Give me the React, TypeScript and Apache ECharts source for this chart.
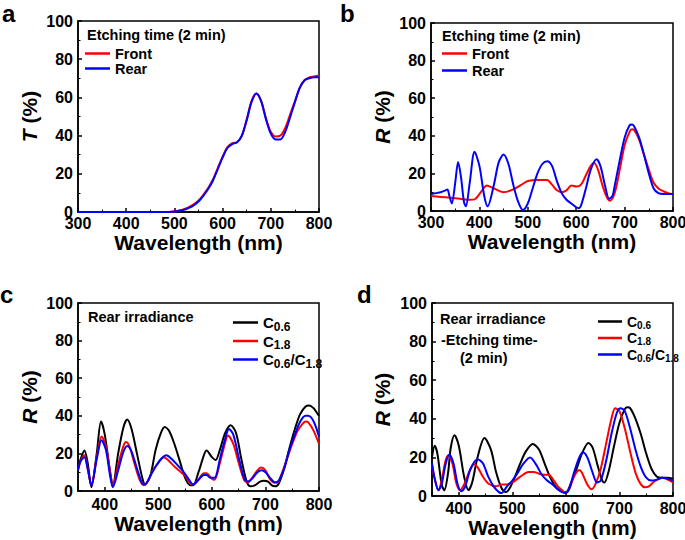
import React, { useEffect, useRef } from 'react';
import * as echarts from 'echarts';

const FONT = '"Liberation Sans", Arial, sans-serif';

// ---- Panel a: transmittance ----
const aWl = [300, 400, 490, 500, 510, 520, 530, 540, 550, 560, 570, 580, 590, 600, 610, 620, 630, 640, 650, 660, 670, 680, 690, 700, 710, 720, 730, 740, 750, 760, 770, 780, 790, 800];
const aFront = [0, 0, 0, 0.3, 0.8, 1.5, 2.5, 4, 6, 9, 12.5, 17, 23, 29, 34, 36, 36.5, 40, 48.5, 58, 62, 58, 49, 42, 39.5, 40, 44, 51, 58, 65, 69, 70.5, 71, 71.5];
const aRear = [0, 0, 0, 0.2, 0.6, 1.2, 2.2, 3.5, 5.5, 8.5, 12, 16.5, 22.5, 28.5, 33.5, 35.5, 36.5, 40, 48, 57.5, 62, 58, 48.5, 41, 38, 38, 42, 49.5, 57.5, 65, 69, 70, 70.5, 70.5];

// ---- Panel b: reflectance ----
const bFrontWl = [300, 320, 340, 360, 380, 390, 400, 410, 415, 430, 450, 470, 490, 500, 520, 540, 550, 560, 570, 580, 590, 600, 610, 620, 630, 637, 645, 655, 665, 670, 680, 690, 700, 710, 715, 720, 730, 740, 750, 760, 770, 780, 790, 800];
const bFront = [8, 7.5, 7, 6.5, 6, 6.2, 9, 12.5, 13.5, 12, 10, 11.5, 14.5, 16, 16.5, 16.5, 14, 11, 10, 11, 13.5, 13, 14, 19, 24, 25.5, 22, 13, 6.5, 5.5, 10, 22, 35, 42, 43.5, 43, 38, 30, 22, 15, 12, 10.5, 9.5, 9];
const bRearWl = [300, 310, 320, 330, 334, 338, 343, 350, 356, 362, 368, 372, 380, 390, 400, 410, 417, 430, 440, 450, 460, 470, 480, 490, 500, 510, 520, 530, 540, 550, 560, 570, 580, 590, 600, 605, 610, 620, 630, 642, 650, 660, 668, 675, 680, 690, 700, 710, 715, 720, 730, 740, 750, 760, 770, 780, 790, 800];
const bRear = [9, 9.5, 10, 11, 11.5, 8, 4, 15, 26, 18, 5, 2.5, 15, 31.5, 24, 8, 2.5, 14, 26, 30, 25, 14, 5, 0.5, 4, 12, 20, 25, 26.5, 24, 16, 9.5, 6, 4, 2, 1.5, 3, 12, 22, 27.5, 24, 13, 6.5, 8, 14, 27, 39, 45.5, 46, 45, 39, 30, 20, 12, 9.5, 9, 9, 9];

// ---- Panel c: rear irradiance ----
const cBlackWl = [350, 355, 362, 368, 375, 385, 393, 400, 410, 415, 425, 435, 442, 450, 460, 470, 475, 485, 495, 505, 512, 520, 530, 540, 550, 560, 565, 575, 585, 590, 600, 607, 615, 625, 635, 645, 655, 665, 672, 680, 690, 697, 705, 712, 718, 725, 735, 745, 755, 765, 775, 782, 790, 795, 800];
const cBlack = [12, 17, 21.5, 15, 2, 20, 37, 30, 10, 3, 20, 34, 38, 33, 20, 7, 3.5, 8, 22, 31, 34, 32, 25, 16, 7, 3, 3, 10, 19, 21.5, 18, 16.5, 22, 31, 35, 31, 17, 5, 2.5, 3, 5, 5.5, 5, 3, 2.5, 4, 12, 23, 33, 41, 45, 45.5, 44, 42, 40];
const cRedWl = [350, 355, 362, 368, 375, 385, 394, 402, 410, 415, 425, 435, 440, 447, 455, 465, 473, 480, 490, 500, 510, 520, 530, 540, 550, 560, 565, 575, 585, 590, 600, 605, 615, 625, 630, 640, 650, 660, 667, 675, 685, 692, 700, 708, 716, 722, 730, 740, 750, 760, 770, 775, 780, 790, 800];
const cRed = [11, 16, 19, 12, 3, 18, 29, 24, 10, 2.5, 14, 24, 26, 23, 15, 6, 3, 5, 11, 15, 18, 16, 13, 10.5, 8, 4, 3.5, 6, 9.5, 9.5, 6.5, 6, 15, 26, 29.5, 25, 15, 6, 4.5, 7, 11, 12.5, 11, 6.5, 4.5, 4.5, 9, 17, 25, 32, 36, 37, 36.5, 32, 25];
const cBlueWl = [350, 355, 362, 368, 375, 385, 394, 402, 410, 415, 425, 435, 442, 450, 460, 470, 475, 485, 495, 505, 515, 525, 535, 545, 555, 565, 575, 585, 590, 597, 605, 615, 625, 632, 640, 650, 660, 667, 675, 685, 693, 700, 710, 718, 725, 735, 745, 755, 765, 775, 780, 790, 800];
const cBlue = [11, 16, 18, 12, 3, 17, 27, 22, 8, 2, 11, 21, 24, 21, 12, 4, 3.5, 8, 13, 17, 19, 17, 14, 11, 7, 3.5, 6, 8.5, 8.5, 7, 7, 17, 28, 33, 30, 18, 7, 5, 6.5, 10, 11, 10, 6.5, 4.5, 5.5, 12, 22, 30, 37, 40, 40, 37, 29];

// ---- Panel d: rear irradiance, 2 min etching ----
const dBlackWl = [350, 355, 360, 368, 373, 380, 385, 392, 400, 410, 418, 425, 435, 448, 460, 470, 480, 488, 495, 505, 515, 525, 538, 550, 560, 570, 580, 590, 600, 610, 620, 630, 642, 650, 660, 668, 672, 680, 690, 700, 710, 715, 720, 730, 740, 750, 760, 770, 780, 790, 800];
const dBlack = [20, 26, 22, 6, 3, 12, 25, 31.5, 26, 10, 3, 7, 20, 30, 24, 12, 4, 2, 4, 10, 17, 23, 27, 24, 17, 10, 5, 2.5, 2, 7, 14, 22, 27.5, 25, 15, 8, 7, 13, 26, 38, 45, 46, 45.5, 40, 32, 22, 14, 10, 9.5, 9.5, 9];
const dRedWl = [350, 355, 362, 368, 375, 380, 388, 395, 402, 410, 420, 428, 435, 445, 455, 470, 480, 490, 500, 510, 520, 530, 540, 550, 560, 568, 575, 585, 595, 600, 607, 615, 625, 630, 640, 648, 655, 665, 675, 685, 692, 700, 710, 720, 730, 740, 748, 755, 765, 780, 790, 800];
const dRed = [16, 9, 3, 8, 18, 21, 17, 7, 3, 6, 13, 16.5, 15, 10, 6.5, 5, 6, 6, 7, 9, 11, 12.5, 12.5, 11.5, 11, 11, 9, 5, 2.5, 1.5, 4, 10, 13.5, 12, 6, 3.5, 6, 14, 27, 40, 45.5, 44, 35, 23, 12, 6, 4.5, 5, 7.5, 9.5, 8.5, 7];
const dBlueWl = [350, 355, 362, 368, 375, 382, 390, 398, 405, 412, 422, 435, 445, 455, 465, 475, 480, 490, 500, 510, 520, 533, 545, 555, 565, 575, 585, 598, 605, 615, 625, 632, 640, 650, 658, 665, 675, 685, 695, 702, 710, 720, 730, 740, 750, 760, 770, 780, 790, 800];
const dBlue = [17, 9, 3, 6, 16, 21.5, 17, 6, 2.5, 5, 14, 19, 17, 10, 5, 2, 1.5, 5, 8, 12, 16.5, 20, 16, 11, 8, 6, 3.5, 1.5, 3, 12, 20, 22.5, 20, 12, 7, 8, 18, 32, 43, 45.5, 44, 35, 24, 15, 9.5, 8, 8.5, 9.5, 9, 8];

const zip = (xs: number[], ys: number[]) => xs.map((x, i) => [x, ys[i]]);

const subName: Record<string, string> = {
  'C0.6': '{m|C}{s|0.6}',
  'C1.8': '{m|C}{s|1.8}',
  'C0.6/C1.8': '{m|C}{s|0.6}{m|/C}{s|1.8}',
};

const grids = [
  { left: 78, top: 21, width: 241, height: 191 },
  { left: 431, top: 23, width: 242, height: 188 },
  { left: 78, top: 303, width: 241, height: 188 },
  { left: 432, top: 303, width: 241, height: 193 },
];

function makeX(idx: number, min: number, labelMargin: number, nameGap: number) {
  const base: any = {
    type: 'value',
    gridIndex: idx,
    min,
    max: 800,
    name: 'Wavelength (nm)',
    nameLocation: 'middle',
    nameGap,
    nameTextStyle: { fontFamily: FONT, fontWeight: 'bold', fontSize: 21, color: '#000' },
    axisLine: { show: true, onZero: false, lineStyle: { color: '#000', width: 1.5 } },
    axisTick: { show: true, inside: true, length: 4, lineStyle: { color: '#000', width: 1.5 } },
    minorTick: { show: true, splitNumber: 2, length: 2.5, lineStyle: { color: '#000', width: 1 } },
    axisLabel: { fontFamily: FONT, fontWeight: 'bold', fontSize: 16, color: '#000', margin: labelMargin, showMinLabel: min === 300 },
    splitLine: { show: false },
    minorSplitLine: { show: false },
  };
  if (min === 300) base.interval = 100;
  else base.splitNumber = 5;
  return base;
}

function makeY(idx: number, letter: string, nameGap: number) {
  return {
    type: 'value',
    gridIndex: idx,
    min: 0,
    max: 100,
    interval: 20,
    name: `{i|${letter}} (%)`,
    nameLocation: 'middle',
    nameGap,
    nameTextStyle: {
      fontFamily: FONT, fontWeight: 'bold', fontSize: 21, color: '#000',
      rich: { i: { fontFamily: FONT, fontWeight: 'bold', fontStyle: 'italic', fontSize: 21, color: '#000' } },
    },
    axisLine: { show: true, onZero: false, lineStyle: { color: '#000', width: 1.5 } },
    axisTick: { show: true, inside: true, length: 4, lineStyle: { color: '#000', width: 1.5 } },
    minorTick: { show: true, splitNumber: 2, length: 2.5, lineStyle: { color: '#000', width: 1 } },
    axisLabel: { fontFamily: FONT, fontWeight: 'bold', fontSize: 16, color: '#000', margin: 5 },
    splitLine: { show: false },
    minorSplitLine: { show: false },
  };
}

function line(name: string, idx: number, data: number[][], color: string) {
  return {
    type: 'line',
    name,
    xAxisIndex: idx,
    yAxisIndex: idx,
    data,
    symbol: 'none',
    smooth: 0.3,
    lineStyle: { color, width: 2 },
    itemStyle: { color },
    color,
  };
}

function txt(text: string, x: number, y: number, size: number) {
  return {
    type: 'text',
    x,
    y,
    style: { text, fontFamily: FONT, fontWeight: 'bold', fontSize: size, fill: '#000', verticalAlign: 'middle', align: 'left' },
  };
}

export default function App() {
  const ref = useRef<HTMLDivElement>(null);
  useEffect(() => {
    if (!ref.current) return;
    const chart = echarts.init(ref.current, undefined, { renderer: 'svg' });
    const legendText = (m: number, s: number, lh: number, slh: number) => ({
      fontFamily: FONT, fontWeight: 'bold', fontSize: m, color: '#000',
      rich: {
        m: { fontFamily: FONT, fontWeight: 'bold', fontSize: m, lineHeight: lh, color: '#000' },
        s: { fontFamily: FONT, fontWeight: 'bold', fontSize: s, lineHeight: slh, verticalAlign: 'bottom', color: '#000' },
      },
    });
    const simpleText = { fontFamily: FONT, fontWeight: 'bold', fontSize: 14.5, lineHeight: 15, color: '#000' };
    chart.setOption({
      animation: false,
      backgroundColor: '#fff',
      grid: grids.map((g) => ({ ...g, show: true, borderColor: '#000', borderWidth: 1.5, backgroundColor: 'transparent', outerBoundsMode: 'none' })),
      xAxis: [makeX(0, 300, 3, 20), makeX(1, 300, 3, 20), makeX(2, 350, 5, 15), makeX(3, 350, 4, 14)],
      yAxis: [makeY(0, 'T', 38), makeY(1, 'R', 38), makeY(2, 'R', 38), makeY(3, 'R', 39)],
      legend: [
        { orient: 'vertical', left: 83, top: 44, padding: 2, icon: 'rect', itemWidth: 25, itemHeight: 2.5, itemGap: 0, selectedMode: false, data: ['Front', 'Rear'], textStyle: simpleText },
        { orient: 'vertical', left: 440, top: 44, padding: 2, icon: 'rect', itemWidth: 25, itemHeight: 2.5, itemGap: 2, selectedMode: false, data: ['Front', 'Rear'], textStyle: simpleText },
        { orient: 'vertical', left: 228, top: 310, icon: 'rect', itemWidth: 25, itemHeight: 2.5, itemGap: 1, selectedMode: false, data: ['C0.6', 'C1.8', 'C0.6/C1.8'], formatter: (n: string) => subName[n], textStyle: legendText(15, 12, 20, 10) },
        { orient: 'vertical', left: 593, top: 309.5, icon: 'rect', itemWidth: 24, itemHeight: 2.5, itemGap: 1, selectedMode: false, data: ['C0.6', 'C1.8', 'C0.6/C1.8'], formatter: (n: string) => subName[n], textStyle: legendText(14, 10, 17, 8) },
      ],
      graphic: [
        txt('a', 2, 13.6, 24),
        txt('b', 340, 13.6, 24),
        txt('c', 0, 294.6, 24),
        txt('d', 357, 294.6, 24),
        txt('Etching time (2 min)', 87, 35, 14.5),
        txt('Etching time (2 min)', 442, 36, 14.5),
        txt('Rear irradiance', 88, 316.6, 14.5),
        txt('Rear irradiance', 440, 319, 14.5),
        txt('-Etching time-', 441, 340, 14.5),
        txt('(2 min)', 460, 357.6, 14.5),
      ],
      series: [
        line('Front', 0, zip(aWl, aFront), '#ff0000'),
        line('Rear', 0, zip(aWl, aRear), '#0000ff'),
        line('Front', 1, zip(bFrontWl, bFront), '#ff0000'),
        line('Rear', 1, zip(bRearWl, bRear), '#0000ff'),
        line('C0.6', 2, zip(cBlackWl, cBlack), '#000000'),
        line('C1.8', 2, zip(cRedWl, cRed), '#ff0000'),
        line('C0.6/C1.8', 2, zip(cBlueWl, cBlue), '#0000ff'),
        line('C0.6', 3, zip(dBlackWl, dBlack), '#000000'),
        line('C1.8', 3, zip(dRedWl, dRed), '#ff0000'),
        line('C0.6/C1.8', 3, zip(dBlueWl, dBlue), '#0000ff'),
      ],
    });
    return () => chart.dispose();
  }, []);
  return <div ref={ref} style={{ position: 'fixed', left: 0, top: 0, width: 685, height: 540, background: '#fff' }} />;
}
